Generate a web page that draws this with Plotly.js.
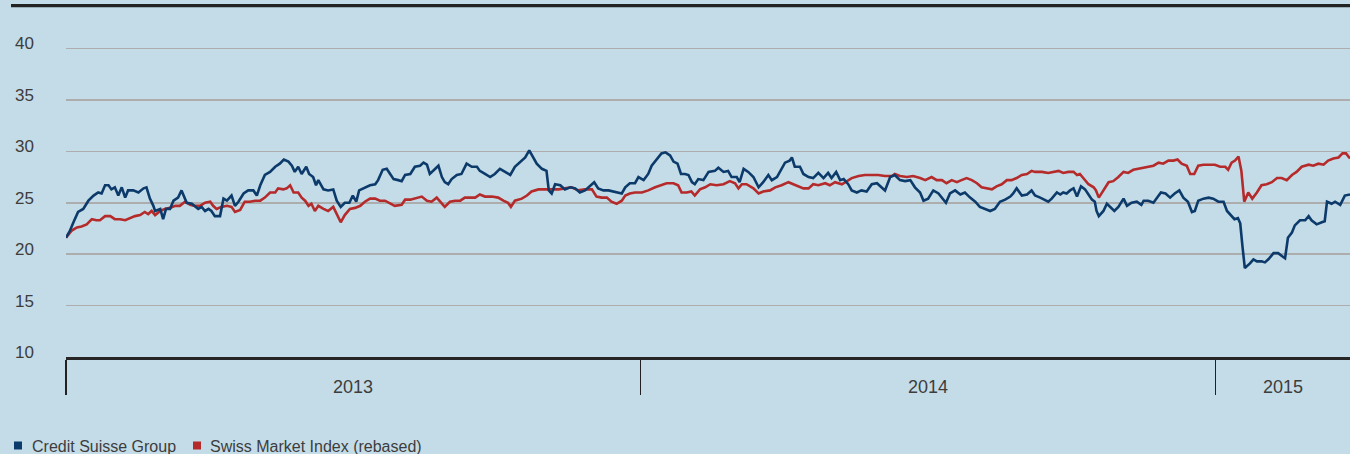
<!DOCTYPE html>
<html>
<head>
<meta charset="utf-8">
<script src="https://cdn.plot.ly/plotly-3.0.1.min.js"></script>
<style>html,body{margin:0;padding:0;background:#c4dce7;}#chart{width:1350px;height:454px;}</style>
</head>
<body>
<div id="chart"></div>
<script>
// ---- DATA (decimal years, share price / rebased index) ----
const seriesNames = ['Credit Suisse Group', 'Swiss Market Index (rebased)'];

const csYear = [
2013.000,2013.007,2013.013,2013.021,2013.030,2013.039,2013.048,2013.056,2013.062,2013.068,2013.074,2013.079,2013.085,2013.091,2013.097,2013.103,2013.108,2013.117,2013.126,2013.135,2013.140,2013.146,2013.152,2013.155,2013.164,2013.169,2013.174,2013.181,2013.187,2013.195,2013.201,2013.207,2013.210,2013.219,2013.224,2013.230,2013.236,2013.242,2013.248,2013.253,2013.259,2013.268,2013.274,2013.280,2013.288,2013.294,2013.300,2013.309,2013.317,2013.326,2013.332,2013.338,2013.346,2013.355,2013.364,2013.372,2013.379,2013.387,2013.393,2013.398,2013.404,2013.410,2013.418,2013.423,2013.430,2013.435,2013.439,2013.448,2013.456,2013.465,2013.471,2013.478,2013.485,2013.493,2013.499,2013.505,2013.510,2013.520,2013.529,2013.538,2013.543,2013.551,2013.558,
2013.564,2013.570,2013.578,2013.584,2013.590,2013.599,2013.607,2013.616,2013.622,2013.628,2013.633,2013.642,2013.648,2013.654,2013.659,2013.665,2013.671,2013.680,2013.688,2013.697,2013.706,2013.715,2013.720,2013.729,2013.738,2013.746,2013.755,2013.764,2013.773,2013.781,2013.790,2013.799,2013.806,2013.813,2013.819,2013.828,2013.836,2013.840,2013.845,2013.851,2013.860,2013.868,2013.877,2013.886,2013.894,2013.903,2013.912,2013.919,2013.926,2013.935,2013.944,2013.952,2013.961,2013.967,2013.973,2013.981,2013.990,2013.996,2014.005,2014.013,2014.019,2014.028,2014.036,2014.043,2014.051,2014.057,2014.064,2014.070,2014.077,2014.083,2014.089,2014.094,2014.100,2014.109,2014.118,
2014.129,2014.135,2014.144,2014.152,2014.158,2014.167,2014.172,2014.179,2014.187,2014.196,2014.205,2014.213,2014.222,2014.228,2014.237,2014.245,2014.251,2014.259,2014.263,2014.268,2014.277,2014.283,2014.292,2014.300,2014.309,2014.318,2014.326,2014.332,2014.340,2014.347,2014.353,2014.361,2014.367,2014.376,2014.384,2014.393,2014.402,2014.411,2014.419,2014.425,2014.434,2014.442,2014.451,2014.460,2014.469,2014.477,2014.486,2014.492,2014.500,2014.509,2014.518,2014.527,2014.531,2014.538,2014.547,2014.556,2014.564,2014.573,2014.582,2014.590,2014.599,2014.608,2014.616,2014.625,2014.634,2014.643,2014.648,2014.654,2014.663,2014.672,2014.680,
2014.686,2014.695,2014.703,2014.709,2014.715,2014.724,2014.730,2014.735,2014.741,2014.747,2014.753,2014.759,2014.766,2014.773,2014.779,2014.785,2014.790,2014.793,2014.797,2014.805,2014.811,2014.817,2014.824,2014.831,2014.840,2014.846,2014.854,2014.863,2014.871,2014.875,2014.883,2014.892,2014.898,2014.905,2014.913,2014.921,2014.929,2014.937,2014.944,2014.952,2014.959,2014.964,2014.970,2014.979,2014.988,2014.996,2015.005,2015.014,2015.020,2015.025,2015.033,2015.039,2015.043,2015.047,2015.051,2015.060,2015.066,2015.072,2015.080,2015.086,2015.092,2015.101,2015.109,2015.116,2015.121,2015.126,2015.133,2015.138,2015.147,2015.156,2015.162,2015.167,2015.176,2015.185,2015.190,2015.194,2015.202,2015.208,2015.217,2015.225,2015.234
];
const csPrice = [
21.6,22.3,23.1,24.1,24.4,25.2,25.7,26.0,25.9,26.7,26.7,26.3,26.5,25.7,26.5,25.5,26.2,26.2,26.0,26.4,26.5,25.4,24.7,24.2,24.4,23.4,24.4,24.4,25.2,25.5,26.2,25.5,25.0,24.9,24.7,24.4,24.6,24.2,24.4,24.2,23.7,23.7,25.4,25.2,25.7,24.7,25.1,25.9,26.2,26.2,25.7,26.7,27.7,28.0,28.5,28.8,29.2,29.0,28.6,28.0,28.5,27.8,28.5,27.8,27.5,26.7,27.2,26.3,26.2,26.3,25.2,24.6,25.0,25.0,25.7,25.1,26.2,26.5,26.7,26.8,27.2,28.2,28.3,
27.8,27.3,27.2,27.1,27.7,27.8,28.5,28.6,28.9,28.7,27.8,28.3,28.6,27.5,27.0,26.8,27.3,27.7,27.8,28.8,28.5,28.5,28.1,27.8,27.5,27.8,28.3,28.0,27.7,28.5,29.0,29.4,30.1,29.4,28.8,28.3,28.1,26.2,25.9,26.8,26.7,26.3,26.5,26.4,26.0,26.2,26.7,27.0,26.4,26.2,26.2,26.1,26.0,25.9,26.5,26.9,26.9,27.5,27.2,27.8,28.6,29.3,29.8,29.9,29.6,29.0,28.8,27.8,27.8,27.7,27.0,26.8,27.3,27.2,28.0,
28.1,28.4,28.0,28.1,27.5,27.5,27.0,28.3,28.0,27.5,26.5,27.0,27.7,27.2,27.5,28.3,28.9,29.1,29.4,28.5,28.5,27.8,27.5,27.4,27.9,27.4,27.9,27.4,28.0,27.2,27.3,26.8,26.2,26.0,26.2,26.1,26.8,26.9,26.5,26.2,27.5,27.7,27.2,27.1,27.2,26.5,26.0,25.2,25.4,26.2,25.9,25.2,25.0,25.9,26.2,25.8,26.0,25.5,25.1,24.6,24.4,24.2,24.4,25.1,25.3,25.6,25.9,26.4,25.7,25.8,26.2,
25.7,25.5,25.3,25.1,25.4,26.0,25.8,26.0,25.9,26.2,26.4,25.6,26.6,26.3,25.8,25.3,25.1,24.2,23.7,24.2,24.9,24.6,24.2,24.6,25.4,24.7,25.0,25.1,24.8,25.2,25.2,25.0,25.5,26.0,25.9,25.5,25.9,26.2,25.5,25.1,24.1,24.2,25.2,25.4,25.5,25.4,25.1,25.1,24.2,23.9,23.4,23.5,23.0,20.7,18.65,19.1,19.5,19.3,19.3,19.2,19.5,20.1,20.1,19.8,19.6,21.6,22.1,22.8,23.3,23.3,23.7,23.3,22.9,23.1,23.2,25.1,24.9,25.1,24.8,25.7,25.8
];

const smiYear = [
2013.000,2013.010,2013.019,2013.027,2013.036,2013.045,2013.053,2013.059,2013.068,2013.077,2013.085,2013.094,2013.103,2013.111,2013.120,2013.129,2013.137,2013.143,2013.149,2013.155,2013.164,2013.172,2013.181,2013.190,2013.198,2013.207,2013.216,2013.224,2013.233,2013.242,2013.251,2013.256,2013.262,2013.271,2013.280,2013.288,2013.294,2013.303,2013.311,2013.320,2013.329,2013.338,2013.346,2013.355,2013.364,2013.369,2013.378,2013.384,2013.390,2013.396,2013.404,2013.410,2013.416,2013.422,2013.427,2013.433,2013.439,2013.448,2013.456,2013.465,2013.471,2013.478,2013.485,2013.494,2013.503,2013.512,2013.520,2013.529,2013.538,2013.546,
2013.555,2013.564,2013.572,2013.584,2013.590,2013.599,2013.607,2013.619,2013.628,2013.636,2013.645,2013.651,2013.659,2013.668,2013.677,2013.686,2013.694,2013.703,2013.712,2013.720,2013.729,2013.741,2013.752,2013.761,2013.769,2013.774,2013.781,2013.793,2013.802,2013.810,2013.822,2013.833,2013.845,2013.857,2013.868,2013.880,2013.891,2013.903,2013.915,2013.923,2013.932,2013.941,2013.949,2013.958,2013.967,2013.973,2013.981,2013.990,2014.002,2014.013,2014.025,2014.034,2014.045,2014.057,2014.065,2014.071,2014.080,2014.088,2014.094,2014.103,2014.112,
2014.121,2014.132,2014.144,2014.155,2014.164,2014.170,2014.176,2014.184,2014.196,2014.205,2014.213,2014.225,2014.234,2014.245,2014.257,2014.266,2014.274,2014.283,2014.292,2014.300,2014.309,2014.321,2014.329,2014.338,2014.350,2014.358,2014.367,2014.379,2014.390,2014.402,2014.413,2014.425,2014.437,2014.442,2014.451,2014.463,2014.474,2014.486,2014.495,2014.506,2014.515,2014.524,2014.532,2014.541,2014.550,2014.558,2014.567,2014.576,2014.585,2014.593,2014.602,2014.611,2014.619,2014.628,2014.637,2014.645,2014.654,2014.663,2014.672,2014.680,
2014.686,2014.698,2014.709,2014.718,2014.727,2014.735,2014.744,2014.753,2014.759,2014.764,2014.772,2014.779,2014.788,2014.792,2014.797,2014.805,2014.814,2014.822,2014.831,2014.840,2014.848,2014.857,2014.866,2014.875,2014.883,2014.892,2014.901,2014.909,2014.918,2014.927,2014.934,2014.941,2014.950,2014.956,2014.963,2014.970,2014.979,2014.988,2014.999,2015.008,2015.017,2015.022,2015.028,2015.034,2015.040,2015.045,2015.050,2015.057,2015.064,2015.072,2015.080,2015.089,2015.098,2015.107,2015.115,2015.124,2015.133,2015.141,2015.150,2015.162,2015.170,2015.179,2015.188,2015.196,2015.205,2015.214,2015.221,2015.227,2015.234
];
const smiRebased = [
21.6,22.3,22.6,22.7,22.9,23.4,23.3,23.3,23.7,23.7,23.4,23.4,23.3,23.5,23.7,23.8,24.1,23.9,24.2,23.8,24.2,24.4,24.5,24.7,24.7,25.1,24.8,24.7,24.7,25.0,25.1,24.7,24.4,24.6,24.7,24.6,24.1,24.3,25.1,25.1,25.2,25.2,25.5,26.0,26.0,26.4,26.3,26.4,26.7,26.0,26.0,25.5,25.2,24.7,24.9,24.2,24.7,24.4,24.2,24.6,23.9,23.1,23.8,24.4,24.5,24.7,25.1,25.4,25.4,25.2,
25.2,24.9,24.7,24.8,25.3,25.3,25.4,25.6,25.2,25.1,25.5,25.1,24.6,25.1,25.2,25.2,25.5,25.5,25.5,25.8,25.6,25.6,25.5,25.2,25.0,24.6,25.2,25.4,25.7,26.1,26.3,26.3,26.3,26.3,26.4,26.5,26.2,26.3,26.3,25.6,25.5,25.5,25.1,24.9,25.2,25.7,25.9,26.0,26.0,26.2,26.5,26.7,26.9,26.9,26.7,26.0,26.0,26.1,25.7,26.3,26.5,
26.8,26.7,26.8,27.1,26.9,26.4,26.8,26.8,26.4,25.9,26.1,26.2,26.5,26.7,27.0,26.8,26.6,26.4,26.4,26.8,26.7,26.9,26.7,27.0,26.8,27.1,27.4,27.6,27.7,27.7,27.7,27.6,27.6,27.8,27.6,27.5,27.6,27.4,27.2,27.5,27.2,27.2,26.9,27.2,27.0,27.2,27.4,27.2,26.9,26.5,26.4,26.3,26.6,26.8,27.2,27.2,27.4,27.7,27.8,28.1,
28.0,28.0,27.9,28.0,28.1,27.9,28.0,28.0,27.7,27.8,27.3,26.8,26.5,26.2,25.5,26.2,27.0,27.1,27.5,28.0,27.9,28.2,28.3,28.4,28.5,28.6,28.9,28.8,29.1,29.1,29.2,28.8,28.6,27.8,27.8,28.6,28.7,28.7,28.7,28.5,28.5,28.2,28.9,29.1,29.5,28.1,25.1,26.0,25.4,26.0,26.7,26.8,27.0,27.4,27.4,27.2,27.7,28.0,28.5,28.7,28.6,28.8,28.7,29.1,29.3,29.4,29.8,29.8,29.3
];

const yTicks = [10, 15, 20, 25, 30, 35, 40];
const yearTicks = [2013, 2014, 2015];
const yearLabels = ['2013', '2014', '2015'];
const xRange = [2013, 2015.234];

// ---- STYLE ----
const BG = '#c4dce7';
const BLUE = '#0c3a6a';
const RED = '#b52a2a';
const TXT = '#3d3d3d';
const FONT = 'Liberation Sans, Arial, sans-serif';

const traces = [
  {x: csYear, y: csPrice, name: seriesNames[0], type: 'scatter', mode: 'lines',
   line: {color: BLUE, width: 2.6}, hoverinfo: 'skip'},
  {x: smiYear, y: smiRebased, name: seriesNames[1], type: 'scatter', mode: 'lines',
   line: {color: RED, width: 2.6}, hoverinfo: 'skip'}
];
// draw CS on top
const data = [traces[1], traces[0]];

const PH = 352; // plot height px
const PW = 1284; // plot width px
const px2x = px => (px - 66) / PW;
const py2y = py => (357 - py) / PH;

const annotations = yearLabels.map((t, i) => {
  const a = yearTicks[i];
  const b = Math.min(a + 1, xRange[1]);
  return {x: (a + b) / 2, xref: 'x', y: py2y(387), yref: 'paper', text: t,
          showarrow: false, xanchor: 'center', yanchor: 'middle',
          font: {family: FONT, size: 18, color: TXT}};
});
annotations.push({x: px2x(29.5), xref: 'paper', y: py2y(446), yref: 'paper', text: seriesNames[0],
  showarrow: false, xanchor: 'left', yanchor: 'middle', font: {family: FONT, size: 16, color: TXT}});
annotations.push({x: px2x(208), xref: 'paper', y: py2y(446), yref: 'paper', text: seriesNames[1],
  showarrow: false, xanchor: 'left', yanchor: 'middle', font: {family: FONT, size: 16, color: TXT}});

const shapes = [
  {type: 'line', xref: 'paper', yref: 'paper', x0: px2x(11), x1: 1, y0: py2y(5.6), y1: py2y(5.6),
   line: {color: '#232323', width: 3.4}},
  {type: 'rect', xref: 'paper', yref: 'paper', x0: px2x(14), x1: px2x(22), y0: py2y(449.5), y1: py2y(441.5),
   fillcolor: BLUE, line: {width: 0}},
  {type: 'rect', xref: 'paper', yref: 'paper', x0: px2x(193), x1: px2x(201), y0: py2y(449.5), y1: py2y(441.5),
   fillcolor: RED, line: {width: 0}}
];

const layout = {
  width: 1350, height: 454,
  margin: {l: 66, r: 0, t: 5, b: 97, pad: 0},
  paper_bgcolor: BG, plot_bgcolor: BG,
  showlegend: false,
  font: {family: FONT, color: TXT},
  xaxis: {
    type: 'linear', range: xRange, tickvals: yearTicks, showticklabels: false,
    ticks: 'outside', ticklen: 35, tickwidth: 1.4, tickcolor: '#222',
    showline: true, linecolor: '#262626', linewidth: 3,
    showgrid: false, zeroline: false, fixedrange: true
  },
  yaxis: {
    range: [10, 44.23], tickvals: yTicks, ticktext: yTicks.map(String),
    showgrid: true, gridcolor: '#adadad', gridwidth: 1.6,
    zeroline: false, showline: false, ticks: '',
    ticklabelstandoff: 31, ticklabelshift: -5,
    tickfont: {family: FONT, size: 17, color: TXT}, fixedrange: true
  },
  annotations: annotations,
  shapes: shapes
};

Plotly.newPlot('chart', data, layout, {staticPlot: true, displayModeBar: false});
</script>
</body>
</html>
